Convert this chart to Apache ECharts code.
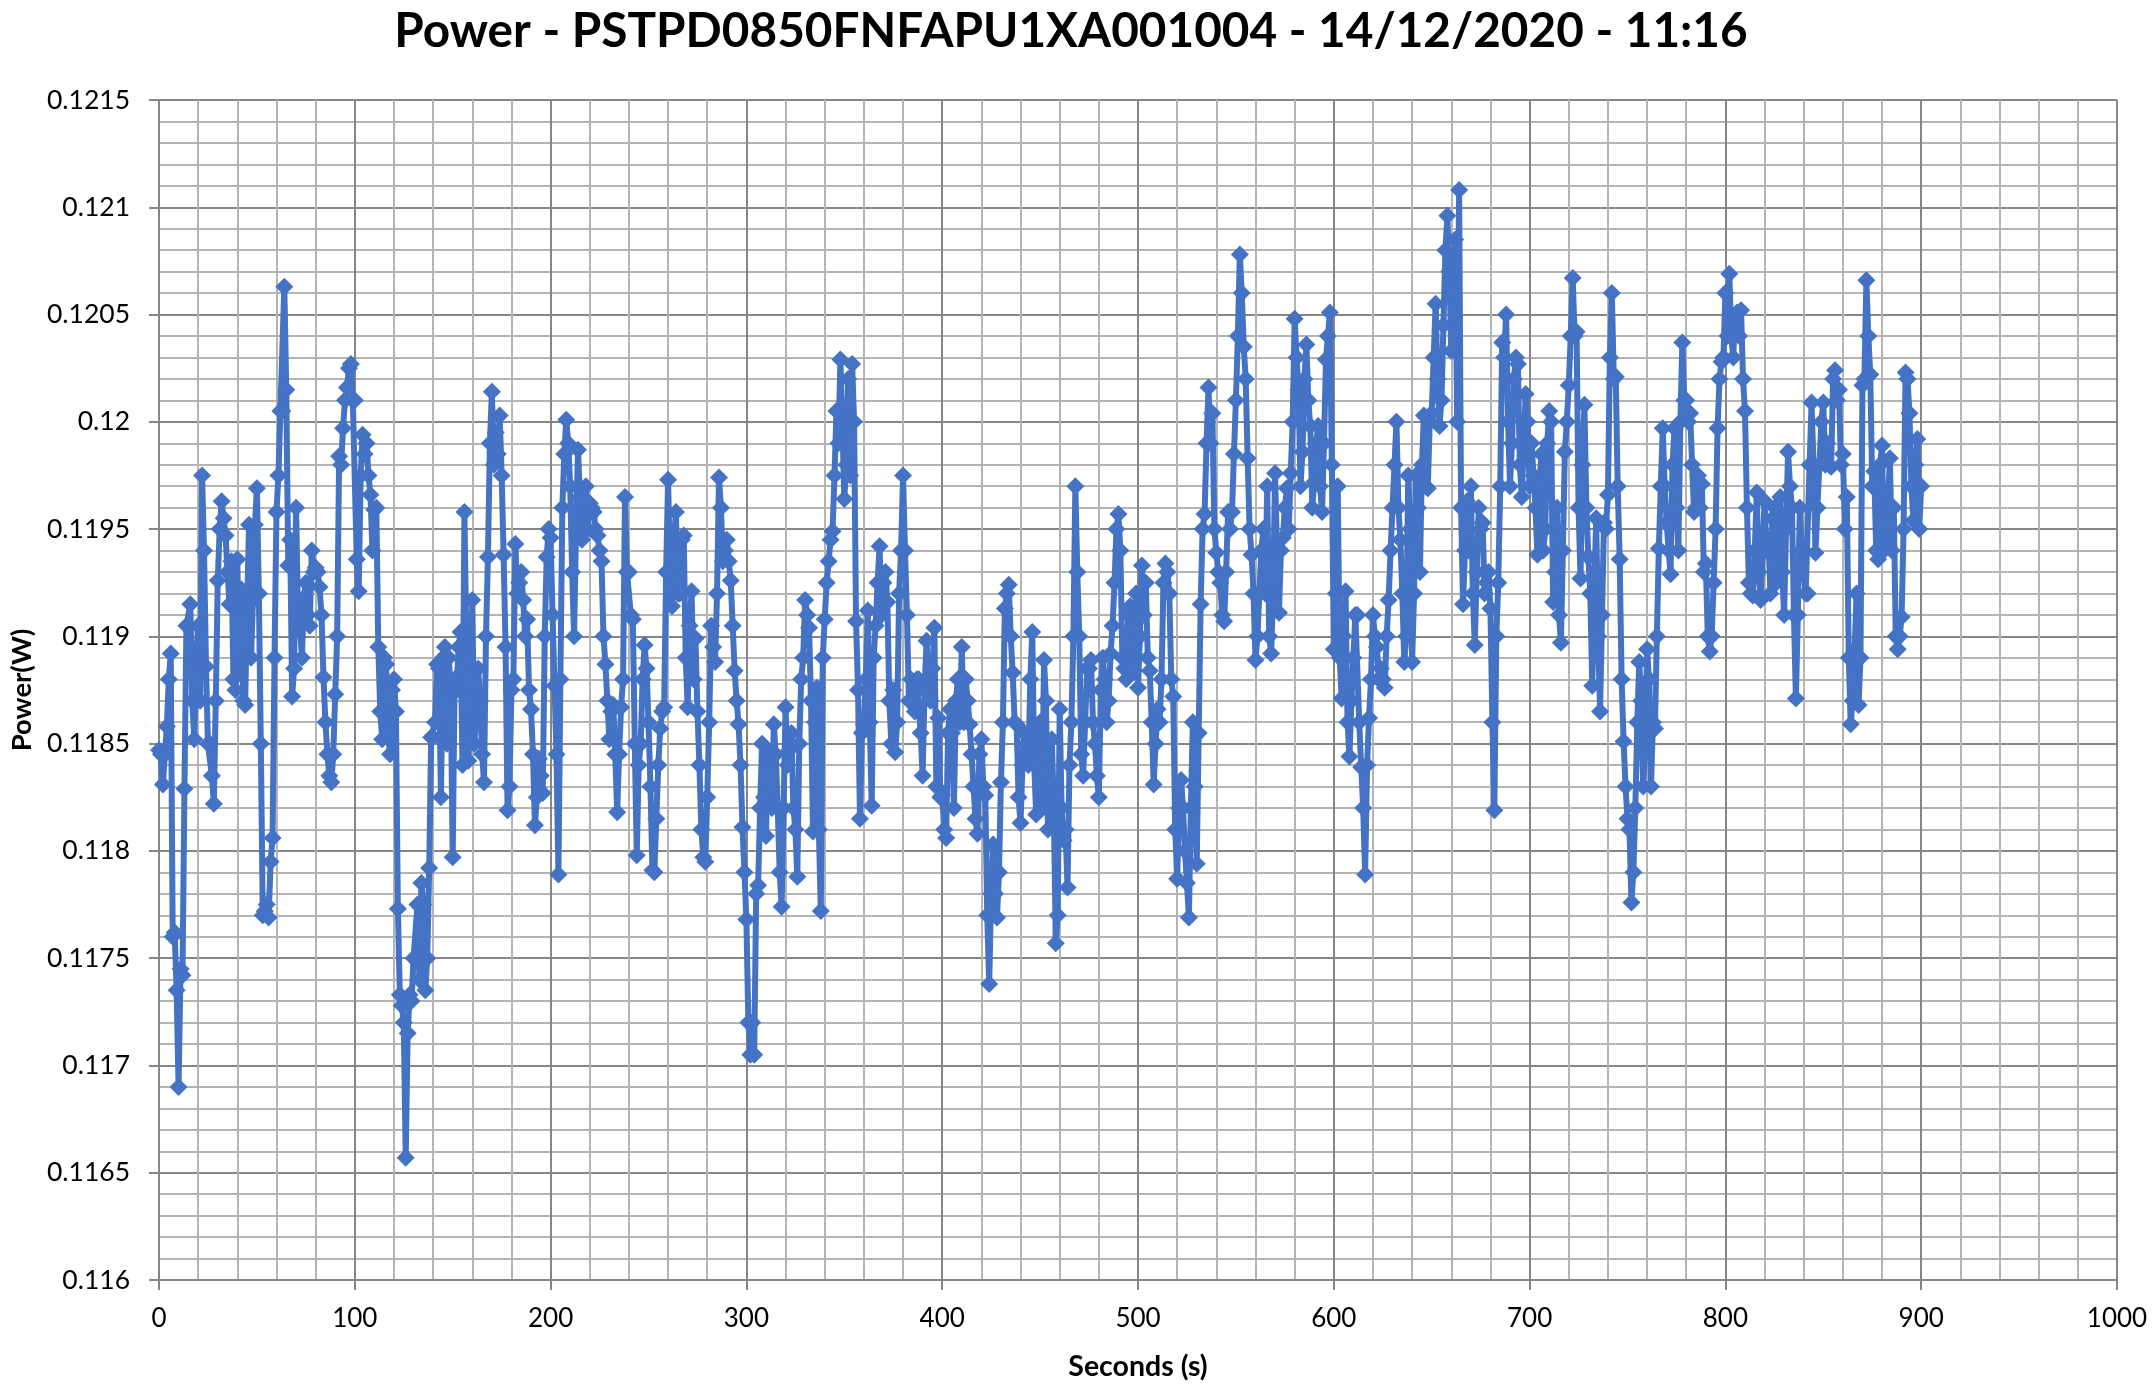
<!DOCTYPE html>
<html><head><meta charset="utf-8"><style>html,body{margin:0;padding:0;background:#fff}#c{width:2152px;height:1385px}</style>
<script src="https://cdn.jsdelivr.net/npm/echarts@6/dist/echarts.min.js"></script></head><body><div id="c"></div>
<script>
const chartTitle = 'Power - PSTPD0850FNFAPU1XA001004 - 14/12/2020 - 11:16';
const secondsEven = [
0,2,4,6,8,10,12,14,16,18,20,22,24,26,28,30,32,34,36,38,40,42,44,46,48,50,52,54,56,58,
60,62,64,66,68,70,72,74,76,78,80,82,84,86,88,90,92,94,96,98,100,102,104,106,108,110,112,114,116,118,
120,122,124,126,128,130,132,134,136,138,140,142,144,146,148,150,152,154,156,158,160,162,164,166,168,170,172,174,176,178,
180,182,184,186,188,190,192,194,196,198,200,202,204,206,208,210,212,214,216,218,220,222,224,226,228,230,232,234,236,238,
240,242,244,246,248,250,252,254,256,258,260,262,264,266,268,270,272,274,276,278,280,282,284,286,288,290,292,294,296,298,
300,302,304,306,308,310,312,314,316,318,320,322,324,326,328,330,332,334,336,338,340,342,344,346,348,350,352,354,356,358,
360,362,364,366,368,370,372,374,376,378,380,382,384,386,388,390,392,394,396,398,400,402,404,406,408,410,412,414,416,418,
420,422,424,426,428,430,432,434,436,438,440,442,444,446,448,450,452,454,456,458,460,462,464,466,468,470,472,474,476,478,
480,482,484,486,488,490,492,494,496,498,500,502,504,506,508,510,512,514,516,518,520,522,524,526,528,530,532,534,536,538,
540,542,544,546,548,550,552,554,556,558,560,562,564,566,568,570,572,574,576,578,580,582,584,586,588,590,592,594,596,598,
600,602,604,606,608,610,612,614,616,618,620,622,624,626,628,630,632,634,636,638,640,642,644,646,648,650,652,654,656,658,
660,662,664,666,668,670,672,674,676,678,680,682,684,686,688,690,692,694,696,698,700,702,704,706,708,710,712,714,716,718,
720,722,724,726,728,730,732,734,736,738,740,742,744,746,748,750,752,754,756,758,760,762,764,766,768,770,772,774,776,778,
780,782,784,786,788,790,792,794,796,798,800,802,804,806,808,810,812,814,816,818,820,822,824,826,828,830,832,834,836,838,
840,842,844,846,848,850,852,854,856,858,860,862,864,866,868,870,872,874,876,878,880,882,884,886,888,890,892,894,896,898,900];
const powerEven = [
.11847,.11831,.11858,.11892,.11762,.1169,.11742,.11905,.11915,.11852,
.11905,.11975,.11886,.1185,.11822,.11926,.11963,.11947,.11915,.1188,
.11936,.11922,.11868,.11952,.11917,.11969,.1185,.11772,.11769,.11806,
.11958,.12005,.12063,.11933,.11872,.1196,.11905,.11918,.1191,.1194,
.11932,.11923,.11881,.11845,.11832,.11873,.11984,.11997,.12016,.12027,
.1201,.11921,.11994,.1199,.11966,.11959,.11895,.11852,.11887,.11845,
.1188,.11773,.11728,.11657,.11733,.1175,.11775,.11785,.11735,.11792,
.11853,.11887,.11825,.11895,.1189,.11797,.11875,.11902,.11958,.11842,
.11917,.11862,.1187,.11832,.11937,.12014,.11995,.12003,.11938,.11819,
.11875,.11943,.11925,.11917,.11908,.11866,.11812,.11843,.11827,.11937,
.11946,.11877,.11789,.1196,.12001,.1197,.119,.11987,.11945,.1197,
.11962,.11958,.11947,.11935,.11887,.11852,.11868,.11818,.11867,.11965,
.1193,.11908,.11798,.1185,.11896,.1186,.11791,.11815,.11857,.11867,
.11973,.11914,.11958,.1192,.11947,.11867,.11921,.11899,.1184,.11797,
.11825,.11905,.11888,.11974,.11935,.11945,.11926,.11884,.11859,.11811,
.11768,.11705,.11705,.11784,.1185,.11807,.11846,.11859,.1182,.11774,
.11867,.11847,.1182,.11788,.1188,.11917,.11904,.11809,.11876,.11772,
.11908,.11935,.11949,.12005,.12029,.11964,.1202,.12027,.11907,.11815,
.11859,.11912,.11821,.11905,.11942,.11925,.11916,.1185,.11846,.1192,
.11975,.1191,.1188,.11865,.1188,.11835,.11898,.1187,.11904,.11862,
.11826,.11806,.11866,.1182,.1188,.11895,.1188,.11859,.1183,.11808,
.11852,.11826,.11738,.11803,.11769,.11832,.11913,.11924,.11883,.11859,
.11813,.11855,.1184,.11902,.11817,.1186,.11889,.1181,.11852,.11757,
.11866,.11805,.11783,.1186,.1197,.119,.11835,.11885,.11889,.1185,
.11825,.1189,.1186,.11892,.11925,.11957,.1189,.1188,.11914,.11884,
.11876,.11933,.11925,.11884,.11831,.11866,.1188,.11934,.1192,.11872,
.11787,.11833,.118,.11769,.1186,.11794,.11915,.11957,.12016,.12004,
.11939,.11925,.11907,.11958,.11958,.1201,.12078,.12035,.11983,.11938,
.11889,.1192,.1195,.1197,.11892,.11976,.11911,.11946,.11969,.11976,
.12048,.12015,.11986,.12036,.11998,.11972,.11998,.11958,.12029,.12051,
.11894,.1197,.11871,.11921,.11844,.1189,.1191,.11839,.11789,.11862,
.1191,.11895,.11885,.11876,.11917,.1196,.12,.11945,.11888,.11975,
.11888,.11975,.1193,.12003,.11969,.12004,.12055,.11998,.12045,.12096,
.12033,.12085,.12108,.11915,.11963,.1197,.11896,.1196,.11953,.11925,
.11913,.11819,.11925,.12037,.1205,.1197,.1202,.12027,.11965,.12013,
.1197,.11975,.11938,.11985,.1195,.12005,.11916,.1196,.11897,.11986,
.12017,.12067,.12042,.11927,.12008,.11937,.11877,.11955,.11865,.11953,
.11966,.1206,.12021,.11936,.11851,.11815,.11776,.1182,.11888,.1183,
.11894,.1183,.11857,.11941,.11997,.11953,.11929,.11997,.1194,.12037,
.1201,.12004,.11958,.11975,.11971,.11934,.11893,.11925,.11997,.12028,
.1206,.12069,.1203,.12051,.12052,.12005,.11925,.11919,.11967,.11917,
.11963,.11945,.11955,.11925,.11965,.1191,.11986,.1196,.11871,.1196,
.1194,.1192,.12009,.11939,.1198,.12009,.1199,.11979,.12024,.12015,
.11985,.11965,.11859,.11894,.11868,.12017,.12066,.12022,.11977,.11936,
.11989,.11945,.11983,.1196,.11894,.11909,.12023,.12004,.11954,.11992,.1197];
const secondsOdd = [
1,3,5,7,9,11,13,15,17,19,21,23,25,27,29,31,33,35,37,39,41,43,45,47,49,51,53,55,57,59,
61,63,65,67,69,71,73,75,77,79,81,83,85,87,89,91,93,95,97,99,101,103,105,107,109,111,113,115,117,119,
121,123,125,127,129,131,133,135,137,139,141,143,145,147,149,151,153,155,157,159,161,163,165,167,169,171,173,175,177,179,
181,183,185,187,189,191,193,195,197,199,201,203,205,207,209,211,213,215,217,219,221,223,225,227,229,231,233,235,237,239,
241,243,245,247,249,251,253,255,257,259,261,263,265,267,269,271,273,275,277,279,281,283,285,287,289,291,293,295,297,299,
301,303,305,307,309,311,313,315,317,319,321,323,325,327,329,331,333,335,337,339,341,343,345,347,349,351,353,355,357,359,
361,363,365,367,369,371,373,375,377,379,381,383,385,387,389,391,393,395,397,399,401,403,405,407,409,411,413,415,417,419,
421,423,425,427,429,431,433,435,437,439,441,443,445,447,449,451,453,455,457,459,461,463,465,467,469,471,473,475,477,479,
481,483,485,487,489,491,493,495,497,499,501,503,505,507,509,511,513,515,517,519,521,523,525,527,529,531,533,535,537,539,
541,543,545,547,549,551,553,555,557,559,561,563,565,567,569,571,573,575,577,579,581,583,585,587,589,591,593,595,597,599,
601,603,605,607,609,611,613,615,617,619,621,623,625,627,629,631,633,635,637,639,641,643,645,647,649,651,653,655,657,659,
661,663,665,667,669,671,673,675,677,679,681,683,685,687,689,691,693,695,697,699,701,703,705,707,709,711,713,715,717,719,
721,723,725,727,729,731,733,735,737,739,741,743,745,747,749,751,753,755,757,759,761,763,765,767,769,771,773,775,777,779,
781,783,785,787,789,791,793,795,797,799,801,803,805,807,809,811,813,815,817,819,821,823,825,827,829,831,833,835,837,839,
841,843,845,847,849,851,853,855,857,859,861,863,865,867,869,871,873,875,877,879,881,883,885,887,889,891,893,895,897,899];
const powerOdd = [
.11845,.11845,.1188,.1176,.11735,.11745,.11829,.11905,.1187,.1189,
.1187,.1194,.1185,.11835,.1187,.1195,.11955,.1193,.11935,.11875,
.11885,.1187,.11915,.1189,.11952,.1192,.1177,.11775,.11795,.1189,
.11975,.12005,.12015,.11945,.11885,.1191,.1189,.11925,.11905,.1193,
.1193,.1191,.1186,.11835,.11845,.119,.1198,.1201,.12025,.1201,
.11936,.11975,.11985,.11975,.1194,.1196,.11865,.1189,.11855,.11875,
.11865,.11733,.1172,.11715,.1173,.1175,.1174,.11775,.1175,.11853,
.1186,.11885,.1189,.1185,.11875,.1188,.11895,.1184,.11895,.1186,
.1185,.11885,.11845,.119,.1199,.1198,.11985,.11975,.11895,.1183,
.1188,.1192,.1193,.119,.11875,.11845,.11825,.11835,.119,.1195,
.1191,.11845,.1188,.11985,.1199,.1193,.1195,.11965,.11955,.1195,
.1196,.1195,.1194,.119,.1187,.11865,.11845,.11845,.1188,.1193,
.1191,.1185,.1184,.1188,.11885,.1183,.1179,.1184,.11865,.1193,
.1193,.11945,.1192,.11945,.1189,.11905,.1188,.11865,.1181,.11795,
.1186,.11895,.1192,.1196,.1194,.11935,.11905,.1187,.1184,.1179,
.1172,.1172,.1178,.1182,.11825,.11845,.1182,.11845,.1179,.1182,
.1184,.11855,.1181,.1185,.1189,.1191,.1187,.1186,.1181,.1189,
.11925,.11945,.11975,.1199,.12,.1198,.11975,.12,.11875,.11855,
.1188,.1186,.1189,.11925,.1191,.1193,.1187,.11875,.1186,.1194,
.1194,.1187,.1187,.1188,.11855,.11875,.1188,.11885,.1183,.11825,
.1181,.11855,.11855,.1187,.1186,.1186,.1187,.11845,.11815,.11845,
.1183,.1177,.1178,.1178,.1179,.1186,.1192,.119,.1186,.11825,
.1184,.1185,.1188,.1184,.1185,.1182,.1187,.1183,.1182,.1177,
.1182,.1181,.1184,.119,.1193,.11845,.1186,.11885,.1186,.11835,
.11875,.1188,.1187,.11905,.1195,.1194,.11885,.1191,.1189,.1192,
.119,.1191,.1189,.1186,.1185,.1186,.11925,.1193,.1188,.1181,
.1182,.1182,.11785,.1182,.1183,.11855,.1195,.1199,.1199,.1195,
.1193,.1191,.1193,.1195,.11985,.1204,.1206,.1202,.1195,.1192,
.119,.1194,.1192,.119,.1192,.1194,.1194,.1196,.1195,.12,
.1203,.1197,.1202,.1201,.1196,.1199,.1197,.1199,.1204,.1198,
.1192,.1189,.119,.1186,.1187,.1191,.1186,.1182,.1184,.1188,
.119,.1188,.1188,.119,.1194,.1198,.1196,.1192,.119,.1195,
.1192,.1196,.1198,.1197,.12,.1203,.1202,.1201,.1208,.1207,
.1206,.12,.1196,.1194,.1194,.1192,.1193,.1195,.1192,.1193,
.1186,.119,.1197,.1203,.12,.1199,.1203,.1198,.1199,.12,
.1199,.1196,.1197,.1194,.1199,.12,.1193,.1191,.1194,.12,
.1204,.1204,.1196,.1198,.1196,.1192,.1192,.119,.1191,.1195,
.1203,.1202,.1197,.1188,.1183,.1181,.1179,.1186,.1187,.1185,
.1188,.1186,.119,.1197,.1197,.1194,.1198,.1196,.12,.1201,
.12,.1198,.1196,.1196,.1193,.119,.119,.1195,.1202,.1203,
.1204,.1204,.1205,.1204,.1202,.1196,.1192,.1194,.1193,.1194,
.1194,.1192,.1196,.1194,.1193,.1195,.1197,.1191,.1191,.1194,
.1192,.1198,.1198,.1196,.12,.1198,.1198,.1202,.1201,.1198,
.1195,.1189,.1187,.1192,.1189,.1202,.1204,.1197,.1194,.1198,
.1194,.1196,.1194,.119,.119,.1195,.1202,.1197,.1198,.1195];
const xAxisName = 'Seconds (s)', yAxisName = 'Power(W)';
const FONT = 'Lato';
const MAJOR = '#868686', MINOR = '#b4b4b4', BLUE = '#4472C4';
const points = secondsEven.map((s,i)=>[s,powerEven[i]])
  .concat(secondsOdd.map((s,i)=>[s,powerOdd[i]]))
  .sort((a,b)=>a[0]-b[0]);
const chart = echarts.init(document.getElementById('c'), null, {renderer:'canvas'});
chart.setOption({
  animation:false, backgroundColor:'#fff',
  title:{text:chartTitle,left:1066,top:3,textAlign:'center',textStyle:{fontFamily:FONT,fontWeight:'bold',fontSize:47.7,color:'#000'}},
  grid:{left:159,top:100,width:1958,height:1180,containLabel:false,outerBoundsMode:'none'},
  xAxis:{type:'value',min:0,max:1000,interval:100,name:xAxisName,nameLocation:'middle',nameGap:72,
    nameTextStyle:{fontFamily:FONT,fontWeight:'bold',fontSize:28.5,color:'#000'},
    axisLine:{show:true,onZero:false,lineStyle:{color:MAJOR,width:2}},
    axisTick:{show:true,length:10,lineStyle:{color:MAJOR,width:2}},
    minorTick:{show:false,splitNumber:5},
    splitLine:{show:true,lineStyle:{color:MAJOR,width:2}},
    minorSplitLine:{show:true,lineStyle:{color:MINOR,width:2}},
    axisLabel:{margin:26,fontFamily:FONT,fontSize:26,color:'#000',formatter:v=>String(v)}},
  yAxis:{type:'value',min:0.116,max:0.1215,interval:0.0005,name:yAxisName,nameLocation:'middle',nameGap:122,nameRotate:90,
    nameTextStyle:{fontFamily:FONT,fontWeight:'bold',fontSize:27.5,color:'#000'},
    axisLine:{show:true,onZero:false,lineStyle:{color:MAJOR,width:2}},
    axisTick:{show:true,length:10,lineStyle:{color:MAJOR,width:2}},
    minorTick:{show:false,splitNumber:5},
    splitLine:{show:true,lineStyle:{color:MAJOR,width:2}},
    minorSplitLine:{show:true,lineStyle:{color:MINOR,width:2}},
    axisLabel:{margin:29,fontFamily:FONT,fontSize:26.5,color:'#000',formatter:v=>String(+v.toFixed(4))}},
  series:[{type:'line',data:points,symbol:'diamond',symbolSize:18,showAllSymbol:true,
    lineStyle:{color:BLUE,width:6},itemStyle:{color:BLUE},emphasis:{disabled:true}}]
});
</script></body></html>
